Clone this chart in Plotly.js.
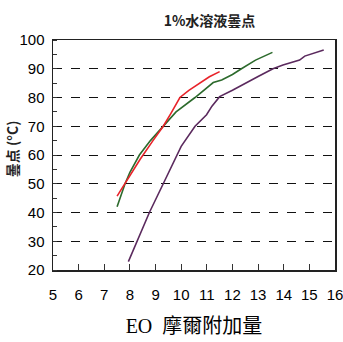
<!DOCTYPE html>
<html><head><meta charset="utf-8">
<script src="https://cdn.plot.ly/plotly-3.0.1.min.js"></script>
<style>html,body{margin:0;padding:0;background:#fff}#chart{width:343px;height:342px}</style>
</head><body><div id="chart"></div>
<script>
var redX = [7.5, 7.8, 8.0, 8.4, 8.9, 9.3, 9.6, 9.95, 10.3, 10.74, 11.1, 11.5];
var redY = [45.7, 50, 53, 58.5, 65, 70, 74.5, 80, 82.5, 85, 87.2, 89];
var greenX = [7.5, 7.65, 7.81, 8.0, 8.37, 8.8, 9.3, 9.8, 10.54, 11.25, 11.58, 12.0, 12.35, 12.9, 13.56];
var greenY = [42, 46, 50, 54, 60, 65, 70, 75, 80, 85.2, 86.1, 88, 90, 93, 95.7];
var purpleX = [7.94, 8.29, 8.76, 9.3, 9.82, 10.0, 10.54, 10.99, 11.2, 11.38, 11.5, 12.0, 12.55, 13.0, 13.58, 13.97, 14.62, 14.82, 15.56];
var purpleY = [22.9, 30, 40, 50, 60, 63, 70, 74, 77, 79.1, 80.3, 82.5, 85, 87.3, 90, 91.3, 93, 94.4, 96.5];
var xTicks = [5, 6, 7, 8, 9, 10, 11, 12, 13, 14, 15, 16];
var yTicks = [20, 30, 40, 50, 60, 70, 80, 90, 100];
var titleText = "1%水溶液曇点";
var xTitle = "EO  摩爾附加量";
var yTitle = "曇点 (°C)";

var tickFont = {family: '"Liberation Sans Narrow", "Arial Narrow", "Liberation Sans", sans-serif', size: 15, color: '#000'};
var traces = [
  {x: purpleX, y: purpleY, mode: 'lines', line: {color: '#5b2a5e', width: 1.6}, hoverinfo: 'none'},
  {x: greenX, y: greenY, mode: 'lines', line: {color: '#2c6a2c', width: 1.6}, hoverinfo: 'none'},
  {x: redX, y: redY, mode: 'lines', line: {color: '#e8232a', width: 1.6}, hoverinfo: 'none'}
];
var layout = {
  width: 343, height: 342,
  margin: {l: 53, r: 8, t: 40, b: 72},
  paper_bgcolor: '#fff', plot_bgcolor: '#fff',
  showlegend: false,
  title: {text: titleText, x: 0.555, xref: 'paper', y: 0.952, yref: 'container',
          font: {family: '"Noto Sans CJK JP", sans-serif', size: 14, color: '#222', weight: 'bold'}},
  xaxis: {
    range: [5, 16], tickvals: xTicks, ticktext: xTicks.map(String),
    ticks: 'inside', ticklen: 6, tickcolor: '#333', tickwidth: 1,
    showline: true, linecolor: '#222', linewidth: 1.5, mirror: true,
    showgrid: false, zeroline: false, tickfont: tickFont, ticklabelstandoff: 10,
    ticklabeloverflow: 'allow',
    title: {text: xTitle, standoff: 17,
            font: {family: '"Liberation Serif", "Noto Sans CJK TC", serif', size: 20, color: '#000'}}
  },
  yaxis: {
    range: [20, 100], tickvals: yTicks, ticktext: yTicks.map(String),
    ticks: '', showline: true, linecolor: '#222', linewidth: 1.5, mirror: true,
    showgrid: true, gridcolor: '#111', gridwidth: 1, griddash: 'dash',
    zeroline: false, tickfont: tickFont, ticklabelstandoff: 4,
    minor: {dtick: 5, tick0: 25, ticks: 'inside', ticklen: 4, tickcolor: '#333', showgrid: false}
  },
  annotations: [{
    text: yTitle, xref: 'paper', yref: 'paper', x: -0.145, y: 0.526,
    xanchor: 'center', yanchor: 'middle', textangle: -90, showarrow: false,
    font: {family: '"Noto Sans CJK JP", sans-serif', size: 14, color: '#222', weight: 'bold'}
  }]
};
Plotly.newPlot('chart', traces, layout, {staticPlot: true, displayModeBar: false});
</script>
</body></html>
